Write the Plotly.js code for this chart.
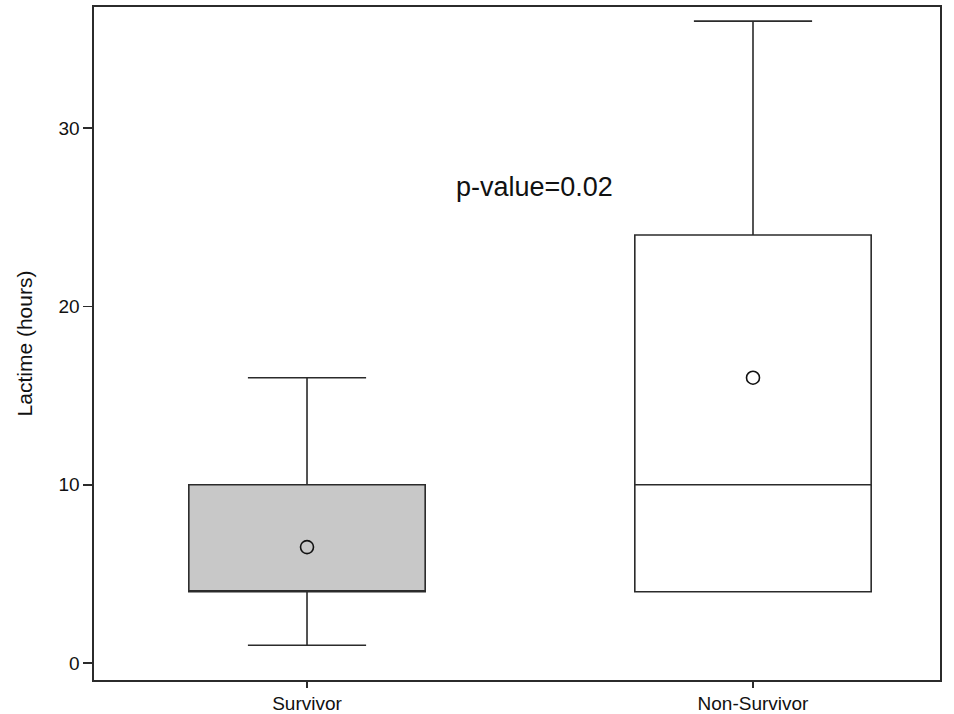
<!DOCTYPE html>
<html>
<head>
<meta charset="utf-8">
<script src="https://cdn.plot.ly/plotly-3.0.1.min.js"></script>
<style>html,body{margin:0;padding:0;background:#fff;}#chart{width:954px;height:714px;}</style>
</head>
<body>
<div id="chart"></div>
<script>
const categories = ["Survivor", "Non-Survivor"];
const q1Values = [4, 4];
const medianValues = [4, 10];
const q3Values = [10, 24];
const lowerFence = [1, 4];
const upperFence = [16, 36];
const meanValues = [6.5, 16];
const fillColors = ["#c8c8c8", "#ffffff"];
const pValueText = "p-value=0.02";

const lineColor = "#2b2b2b";
const font = "Liberation Sans, Arial, sans-serif";

const traces = categories.map((c, i) => ({
  type: "box",
  x: [c],
  q1: [q1Values[i]],
  median: [medianValues[i]],
  q3: [q3Values[i]],
  lowerfence: [lowerFence[i]],
  upperfence: [upperFence[i]],
  width: 0.53,
  whiskerwidth: 0.5,
  fillcolor: fillColors[i],
  line: {color: lineColor, width: 1.6},
  boxpoints: false,
  hoverinfo: "skip",
  showlegend: false
}));

traces.push({
  type: "scatter",
  mode: "markers",
  x: categories,
  y: meanValues,
  marker: {symbol: "circle-open", size: 13, color: "#111", line: {width: 1.6, color: "#111"}},
  showlegend: false,
  hoverinfo: "skip"
});

const layout = {
  width: 954, height: 714,
  margin: {l: 94, r: 14, t: 7, b: 34},
  paper_bgcolor: "#fff", plot_bgcolor: "#fff",
  boxmode: "overlay",
  showlegend: false,
  font: {family: font, color: "#111"},
  xaxis: {
    type: "category",
    categoryorder: "array", categoryarray: categories,
    range: [-0.4776, 1.4193],
    showgrid: false, zeroline: false,
    showline: true, mirror: true, linecolor: lineColor, linewidth: 1.6,
    ticks: "outside", ticklen: 6, tickwidth: 1.6, tickcolor: lineColor,
    tickfont: {size: 19, family: font, color: "#111"}
  },
  yaxis: {
    range: [-0.953, 36.79],
    tickvals: [0, 10, 20, 30],
    showgrid: false, zeroline: false,
    showline: true, mirror: true, linecolor: lineColor, linewidth: 1.6,
    ticks: "outside", ticklen: 9, tickwidth: 1.6, tickcolor: lineColor,
    tickfont: {size: 19, family: font, color: "#111"},
    title: {text: "Lactime (hours)", font: {size: 21, family: font, color: "#111"}, standoff: 20}
  },
  annotations: [{
    x: 0.509, y: 26.7, xref: "x", yref: "y",
    text: pValueText, showarrow: false,
    font: {size: 27, family: font, color: "#111"}
  }]
};

Plotly.newPlot("chart", traces, layout, {displayModeBar: false, staticPlot: true});
</script>
</body>
</html>
